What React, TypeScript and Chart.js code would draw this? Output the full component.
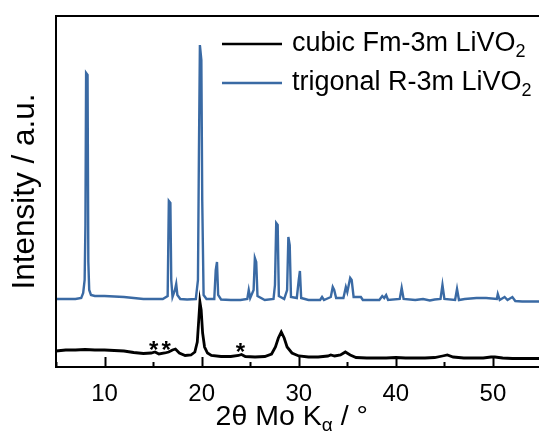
import React, { useEffect, useRef } from "react";
import { Chart, registerables } from "chart.js";

Chart.register(...registerables);

// 2θ (°) and intensity (a.u.) for cubic Fm-3m LiVO2
const cubicTheta = [5.0, 6.0, 7.0, 8.0, 9.0, 10.0, 11.0, 12.0, 13.0, 14.0, 14.8, 15.2, 15.6, 16.2, 16.6, 17.0, 17.3, 17.7, 18.3, 18.9, 19.3, 19.55, 19.7, 19.82, 19.95, 20.1, 20.3, 20.6, 21.0, 22.0, 23.0, 23.8, 24.1, 24.5, 25.5, 26.5, 27.2, 27.6, 27.9, 28.2, 28.5, 28.8, 29.3, 30.0, 31.0, 32.0, 33.0, 33.3, 33.7, 34.3, 34.8, 35.3, 35.9, 37.0, 38.0, 39.0, 40.0, 41.0, 42.0, 43.0, 44.0, 44.8, 45.3, 45.9, 47.0, 48.0, 49.0, 49.8, 50.2, 51.0, 52.0, 53.0, 54.0, 55.0];
const cubicIntensity = [16, 17, 17, 17.5, 17, 17, 16.5, 16, 14.5, 13.5, 14, 15, 13, 14, 15, 17, 18, 14, 11.5, 12, 15, 25, 47, 65, 57, 34, 20, 14, 11.5, 10.5, 10.5, 11.5, 12.5, 10.5, 10, 10.5, 13, 20, 29, 35, 29, 20, 14, 11, 10, 10, 11, 12, 11, 12, 15, 12, 9.5, 9, 9, 9, 9.5, 9, 9, 9, 9.5, 11, 12, 10, 9, 9, 9, 10, 10, 9, 8.5, 8.5, 8.5, 8.5];

// 2θ (°) and intensity (a.u.) for trigonal R-3m LiVO2 (offset)
const trigTheta = [5.0, 6.0, 7.0, 7.6, 7.8, 7.95, 8.03, 8.1, 8.25, 8.33, 8.42, 8.6, 9.0, 10.0, 11.0, 12.0, 13.0, 14.0, 15.0, 16.0, 16.5, 16.62, 16.78, 16.87, 17.0, 17.25, 17.38, 17.5, 17.8, 18.5, 19.4, 19.62, 19.72, 19.82, 19.97, 20.06, 20.2, 20.5, 21.3, 21.45, 21.58, 21.7, 22.0, 23.0, 24.0, 24.7, 24.85, 25.0, 25.35, 25.48, 25.62, 25.75, 26.5, 27.4, 27.55, 27.68, 27.83, 27.95, 28.5, 28.8, 28.93, 29.07, 29.2, 29.8, 30.0, 30.12, 30.25, 31.0, 32.2, 32.4, 32.6, 33.3, 33.5, 33.65, 33.85, 34.6, 34.85, 35.0, 35.3, 35.45, 35.65, 36.4, 36.6, 38.3, 38.6, 38.8, 39.0, 39.2, 40.4, 40.6, 40.8, 42.0, 42.8, 43.5, 44.0, 44.6, 44.8, 45.0, 46.1, 46.3, 46.5, 47.1, 48.3, 49.3, 50.4, 50.5, 50.7, 51.2, 51.5, 52.0, 52.3, 53.0, 54.0, 55.0];
const trigIntensity = [68, 68, 68, 69, 74, 87, 142, 294, 292, 105, 77, 72, 71, 71, 70.5, 70, 69, 68, 68, 68, 71, 166, 164, 87, 70, 77, 83, 72, 68, 67.5, 68, 87, 215, 322, 307, 167, 72, 68, 68, 97, 105, 72, 67.5, 67, 67, 68, 77, 69, 77, 109, 105, 71, 67, 68, 82, 144, 142, 71, 68, 77, 130, 122, 70, 69, 87, 96, 69, 67, 67, 70, 67, 70, 80, 77, 69, 69, 80, 75, 89, 87, 70, 70, 67, 67, 71, 69, 72, 67, 68, 79, 68, 67, 68, 66.5, 67.5, 68, 82, 68, 67, 78, 67, 68, 69, 69, 68, 73, 67, 70, 67, 70, 66, 65.5, 65.5, 65.5];

// impurity markers (*)
const starTheta = [15.05, 16.35, 24.0];
const starIntensity = [21, 21, 19];

const xTickValues = [10, 20, 30, 40, 50];
const legendLabels = ["cubic Fm-3m LiVO", "trigonal R-3m LiVO"];
const legendSubs = ["2", "2"];

const FONT = "'Liberation Sans', Arial, sans-serif";
const BLUE = "#3a6aa4";
const COLORS = ["#000000", BLUE];

type Part = { t: string; sub?: boolean };

function drawRich(ctx: CanvasRenderingContext2D, parts: Part[], x: number, y: number, size: number, align: "left" | "center") {
  const subSize = Math.round(size * 0.68);
  let total = 0;
  const widths = parts.map((p) => {
    ctx.font = `${p.sub ? subSize : size}px ${FONT}`;
    const w = ctx.measureText(p.t).width;
    total += w;
    return w;
  });
  let cx = align === "center" ? x - total / 2 : x;
  ctx.textBaseline = "middle";
  ctx.textAlign = "left";
  parts.forEach((p, i) => {
    ctx.font = `${p.sub ? subSize : size}px ${FONT}`;
    ctx.fillText(p.t, cx, p.sub ? y + size * 0.3 : y);
    cx += widths[i];
  });
}

const framePlugin = {
  id: "framePlugin",
  afterDraw(chart: any) {
    const { ctx, chartArea } = chart;
    const { left, right, top, bottom } = chartArea;
    const xs = chart.scales.x;
    const ys = chart.scales.y;
    ctx.save();
    ctx.strokeStyle = "#000";
    ctx.fillStyle = "#000";
    ctx.lineWidth = 2;
    ctx.strokeRect(left, top, right - left, bottom - top);
    // inward ticks
    for (let v = 5; v <= 55; v += 5) {
      const px = Math.round(xs.getPixelForValue(v)) + 0.5;
      const len = v % 10 === 0 ? 10 : 5;
      ctx.beginPath();
      ctx.moveTo(px, bottom);
      ctx.lineTo(px, bottom - len);
      ctx.stroke();
    }
    // asterisks
    ctx.font = `bold 24px ${FONT}`;
    ctx.textAlign = "center";
    ctx.textBaseline = "middle";
    starTheta.forEach((t, i) => {
      ctx.fillText("*", xs.getPixelForValue(t), ys.getPixelForValue(starIntensity[i]) + 5);
    });
    // x axis title
    drawRich(
      ctx,
      [{ t: "2θ Mo K" }, { t: "α", sub: true }, { t: " / °" }],
      (left + right) / 2 - 7,
      bottom + 50,
      28.5,
      "center"
    );
    // legend
    legendLabels.forEach((lab, i) => {
      const ly = top + 28 + i * 39;
      ctx.strokeStyle = COLORS[i];
      ctx.lineWidth = 2.5;
      ctx.beginPath();
      ctx.moveTo(left + 166, ly);
      ctx.lineTo(left + 226, ly);
      ctx.stroke();
      ctx.fillStyle = "#000";
      drawRich(ctx, [{ t: lab }, { t: legendSubs[i], sub: true }], left + 236, ly, 27, "left");
    });
    ctx.restore();
  },
};

export default function App() {
  const ref = useRef<HTMLCanvasElement | null>(null);
  useEffect(() => {
    if (!ref.current) return;
    const chart = new Chart(ref.current, {
      type: "line",
      data: {
        datasets: [
          {
            label: "cubic Fm-3m LiVO2",
            data: cubicTheta.map((x, i) => ({ x, y: cubicIntensity[i] })),
            borderColor: COLORS[0],
            borderWidth: 2.8,
            pointRadius: 0,
            tension: 0,
          },
          {
            label: "trigonal R-3m LiVO2",
            data: trigTheta.map((x, i) => ({ x, y: trigIntensity[i] })),
            borderColor: COLORS[1],
            borderWidth: 2.4,
            pointRadius: 0,
            tension: 0,
          },
        ],
      },
      options: {
        animation: false,
        responsive: false,
        layout: { padding: { top: 16, right: 4.5, left: 0, bottom: 0 } },
        plugins: { legend: { display: false }, tooltip: { enabled: false } },
        scales: {
          x: {
            type: "linear",
            min: 5,
            max: 55,
            grid: { display: false, drawTicks: false },
            border: { display: false },
            afterBuildTicks: (s: any) => {
              s.ticks = xTickValues.map((v) => ({ value: v }));
            },
            afterFit: (s: any) => {
              s.height = 75;
            },
            ticks: {
              color: "#000",
              padding: 13,
              maxRotation: 0,
              font: { family: FONT, size: 24 },
            },
          },
          y: {
            min: 0,
            max: 351,
            grid: { display: false, drawTicks: false },
            border: { display: false },
            ticks: { display: false },
            afterFit: (s: any) => {
              s.width = 56;
            },
            title: {
              display: true,
              text: "Intensity / a.u.",
              color: "#000",
              font: { family: FONT, size: 31.5 },
              padding: { top: 6, bottom: 0 },
            },
          },
        },
      },
      plugins: [framePlugin],
    });
    return () => chart.destroy();
  }, []);
  return (
    <div style={{ position: "fixed", left: 0, top: 0, width: 539, height: 442, overflow: "hidden", background: "#fff" }}>
      <canvas ref={ref} width={546} height={442} style={{ width: 546, height: 442, display: "block" }} />
    </div>
  );
}
